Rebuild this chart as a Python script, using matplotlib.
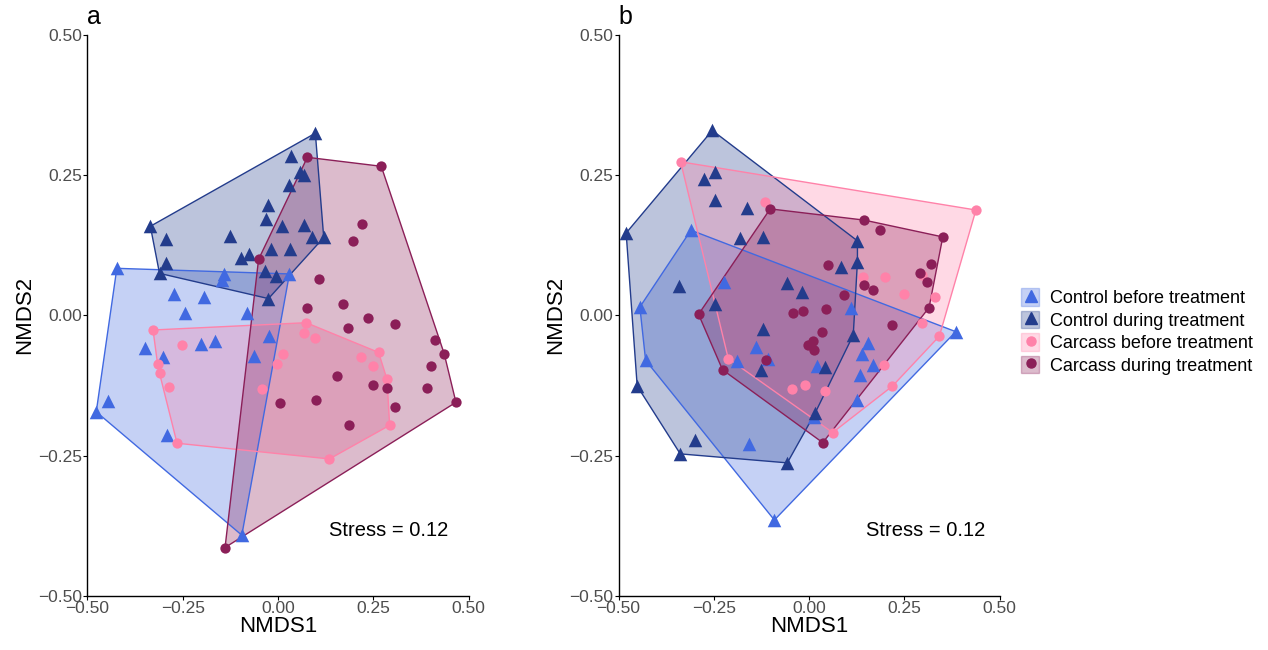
import matplotlib
matplotlib.use("Agg")
import numpy as np
import matplotlib.pyplot as plt
from matplotlib.patches import Polygon, Patch
from matplotlib.lines import Line2D
from matplotlib.legend_handler import HandlerTuple

plt.rcParams['font.family'] = ['Liberation Sans', 'DejaVu Sans']

groups = ["Control before treatment", "Control during treatment",
          "Carcass before treatment", "Carcass during treatment"]
colors = ["#4169E1", "#233C8C", "#FF82A9", "#8B1F58"]
markers = ["^", "^", "o", "o"]

# panel a: NMDS scores
a_ctrl_before_x = [-0.423, -0.143, -0.147, 0.030, -0.274, -0.193, -0.244, -0.082, -0.023, -0.350,
                   -0.202, -0.165, -0.303, -0.062, -0.447, -0.477, -0.292, -0.095]
a_ctrl_before_y = [0.084, 0.074, 0.063, 0.074, 0.039, 0.033, 0.004, 0.004, -0.037, -0.059,
                   -0.051, -0.045, -0.074, -0.073, -0.153, -0.172, -0.213, -0.392]
a_ctrl_during_x = [0.098, 0.034, 0.058, 0.069, 0.030, -0.025, -0.032, -0.335, -0.294, -0.125,
                   0.011, 0.067, 0.089, 0.120, -0.018, 0.032, -0.097, -0.075, -0.294, -0.311,
                   -0.034, -0.005, -0.025]
a_ctrl_during_y = [0.325, 0.284, 0.256, 0.250, 0.232, 0.197, 0.172, 0.159, 0.137, 0.141,
                   0.159, 0.162, 0.140, 0.139, 0.118, 0.119, 0.103, 0.109, 0.093, 0.075,
                   0.080, 0.070, 0.030]
a_carc_before_x = [-0.328, 0.074, 0.067, 0.098, -0.252, 0.264, 0.012, -0.003, -0.316, -0.311,
                   0.218, 0.249, 0.286, -0.287, -0.042, 0.293, -0.265, 0.135]
a_carc_before_y = [-0.026, -0.013, -0.032, -0.041, -0.052, -0.066, -0.069, -0.087, -0.087, -0.103,
                   -0.075, -0.090, -0.114, -0.128, -0.132, -0.196, -0.228, -0.256]
a_carc_during_x = [0.077, 0.271, 0.220, 0.197, -0.051, 0.107, 0.076, 0.170, 0.235, 0.183,
                   0.306, 0.411, 0.436, 0.402, 0.155, 0.249, 0.286, 0.391, 0.004, 0.100,
                   0.467, 0.306, 0.187, -0.139]
a_carc_during_y = [0.282, 0.266, 0.163, 0.133, 0.100, 0.065, 0.014, 0.021, -0.004, -0.023,
                   -0.016, -0.043, -0.068, -0.090, -0.108, -0.124, -0.130, -0.130, -0.157, -0.150,
                   -0.155, -0.164, -0.196, -0.414]

# panel b
b_ctrl_before_x = [-0.310, -0.222, -0.444, 0.110, 0.385, 0.156, -0.139, 0.140, -0.429, -0.188,
                   -0.107, 0.167, 0.022, 0.135, 0.125, 0.014, -0.157, -0.091]
b_ctrl_before_y = [0.152, 0.059, 0.015, 0.014, -0.029, -0.049, -0.056, -0.068, -0.080, -0.081,
                   -0.078, -0.089, -0.090, -0.106, -0.150, -0.181, -0.230, -0.365]
b_ctrl_during_x = [-0.254, -0.480, -0.247, -0.277, -0.247, -0.163, -0.181, -0.122, 0.127, 0.127,
                   0.083, -0.341, -0.058, -0.019, -0.247, -0.122, 0.116, -0.126, 0.042, -0.451,
                   0.016, -0.299, -0.338, -0.057]
b_ctrl_during_y = [0.330, 0.147, 0.256, 0.243, 0.206, 0.191, 0.138, 0.140, 0.133, 0.096,
                   0.086, 0.053, 0.057, 0.042, 0.020, -0.025, -0.035, -0.098, -0.092, -0.126,
                   -0.174, -0.222, -0.247, -0.263]
b_carc_before_x = [-0.337, -0.115, 0.438, 0.141, 0.200, 0.296, 0.248, 0.331, 0.296, 0.342,
                   -0.212, 0.197, 0.219, -0.044, -0.010, 0.042, 0.062]
b_carc_before_y = [0.274, 0.203, 0.188, 0.069, 0.068, 0.072, 0.039, 0.033, -0.014, -0.037,
                   -0.077, -0.089, -0.126, -0.132, -0.124, -0.134, -0.209]
b_carc_during_x = [-0.102, 0.145, 0.186, 0.351, 0.051, 0.319, 0.290, 0.309, 0.145, 0.169,
                   0.092, 0.315, 0.045, -0.041, -0.015, -0.290, 0.217, 0.035, 0.010, -0.004,
                   0.013, -0.114, -0.227, 0.036]
b_carc_during_y = [0.190, 0.170, 0.153, 0.140, 0.090, 0.092, 0.076, 0.060, 0.055, 0.045,
                   0.036, 0.014, 0.011, 0.005, 0.008, 0.002, -0.017, -0.030, -0.046, -0.053,
                   -0.061, -0.080, -0.097, -0.227]

panels = {
    "a": [(a_ctrl_before_x, a_ctrl_before_y), (a_ctrl_during_x, a_ctrl_during_y),
          (a_carc_before_x, a_carc_before_y), (a_carc_during_x, a_carc_during_y)],
    "b": [(b_ctrl_before_x, b_ctrl_before_y), (b_ctrl_during_x, b_ctrl_during_y),
          (b_carc_before_x, b_carc_before_y), (b_carc_during_x, b_carc_during_y)],
}
stress = "Stress = 0.12"
stress_x = {"a": 0.29, "b": 0.306}


def hull(xs, ys):
    pts = sorted(set(zip(xs, ys)))

    def cross(o, a, b):
        return (a[0] - o[0]) * (b[1] - o[1]) - (a[1] - o[1]) * (b[0] - o[0])

    lower, upper = [], []
    for p in pts:
        while len(lower) >= 2 and cross(lower[-2], lower[-1], p) <= 0:
            lower.pop()
        lower.append(p)
    for p in reversed(pts):
        while len(upper) >= 2 and cross(upper[-2], upper[-1], p) <= 0:
            upper.pop()
        upper.append(p)
    return lower[:-1] + upper[:-1]


fig = plt.figure(figsize=(12.68, 6.5), dpi=100)
ax_a = fig.add_axes([0.069, 0.0835, 0.3005, 0.8625])
ax_b = fig.add_axes([0.4878, 0.0835, 0.3005, 0.8625])

for ax, (label, data) in zip([ax_a, ax_b], panels.items()):
    for (xs, ys), c in zip(data, colors):
        poly = Polygon(hull(xs, ys), closed=True, facecolor=c, alpha=0.3,
                       edgecolor="none", zorder=1)
        ax.add_patch(poly)
        edge = Polygon(hull(xs, ys), closed=True, facecolor="none",
                       edgecolor=c, lw=1.0, zorder=2)
        ax.add_patch(edge)
    for (xs, ys), c, m in zip(data, colors, markers):
        s = 95 if m == "^" else 55
        ax.scatter(xs, ys, c=c, marker=m, s=s, linewidths=0, zorder=3)

    ax.set_xlim(-0.5, 0.5)
    ax.set_ylim(-0.5, 0.5)
    ticks = [-0.5, -0.25, 0, 0.25, 0.5]
    ax.set_xticks(ticks)
    ax.set_yticks(ticks)
    ax.set_xticklabels(["\u22120.50", "\u22120.25", "0.00", "0.25", "0.50"])
    ax.set_yticklabels(["\u22120.50", "\u22120.25", "0.00", "0.25", "0.50"])
    ax.tick_params(labelsize=12.5, labelcolor="#4D4D4D", length=3, width=0.8, pad=1)
    for sp in ["top", "right"]:
        ax.spines[sp].set_visible(False)
    for sp in ["left", "bottom"]:
        ax.spines[sp].set_linewidth(1.0)
    ax.set_xlabel("NMDS1", fontsize=16, labelpad=0)
    ax.set_ylabel("NMDS2", fontsize=16, labelpad=2)
    ax.text(stress_x[label], -0.383, stress, fontsize=14.5, ha="center", va="center")
    ax.text(-0.5, 0.52, label, fontsize=18, ha="left", va="baseline")

handles = []
for c, m in zip(colors, markers):
    p = Patch(facecolor=c, alpha=0.3, edgecolor=c)
    ln = Line2D([], [], color=c, marker=m, ls="none", markersize=8.5 if m == "^" else 6.5)
    handles.append((p, ln))
fig.legend(handles, groups, handler_map={tuple: HandlerTuple(ndivide=None, pad=-1.0)},
           loc="center left", bbox_to_anchor=(0.792, 0.49), frameon=False,
           fontsize=13, handlelength=1.1, handleheight=1.1, handletextpad=0.55,
           labelspacing=0.2)

fig.savefig("out.png", dpi=100)
